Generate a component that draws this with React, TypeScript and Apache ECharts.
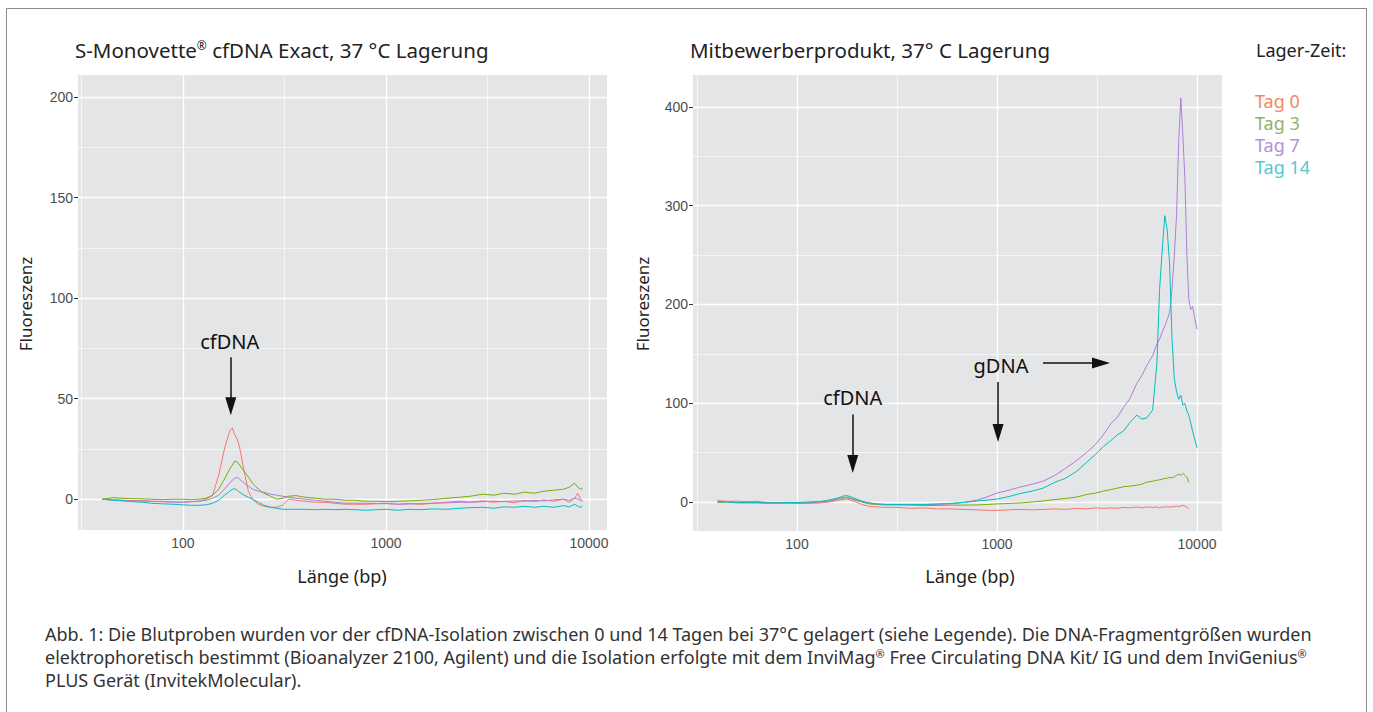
import React, { useEffect, useRef } from "react";
import * as echarts from "echarts";

// ---------- data ----------
const seriesNames = ["Tag 0", "Tag 3", "Tag 7", "Tag 14"];
const lineColors = ["#F8766D", "#7CAE00", "#B07CD8", "#00BFC4"];
const legendColors = ["#F5875C", "#8DB56C", "#B193D3", "#55C8D1"];

const xTickValues = [100, 1000, 10000];
const xMinorValues = [31.62, 316.2, 3162];
const leftYTicks = [0, 50, 100, 150, 200];
const leftYMinor = [25, 75, 125, 175];
const rightYTicks = [0, 100, 200, 300, 400];
const rightYMinor = [50, 150, 250, 350];

const leftLength = [40, 45, 50, 56, 63, 70, 80, 90, 100, 110, 120, 130, 140, 150, 160, 170, 175, 180, 185, 190, 200, 210, 220, 235, 250, 270, 290, 310, 330, 360, 400, 450, 500, 560, 630, 700, 800, 900, 1000, 1150, 1300, 1500, 1700, 2000, 2300, 2600, 3000, 3400, 3800, 4300, 4800, 5400, 6000, 6700, 7500, 8000, 8500, 8800, 9100, 9300];
const leftTag0 = [0, -0.3, -0.5, -0.8, -0.6, -1, -1.2, -1.3, -1.5, -1.2, -1, 0, 2, 12, 25, 34, 35.5, 32, 30, 26, 14, 4, 0, -2.5, -3.5, -4, -4, -3, 0, -0.5, -1, -1.5, -1.5, -2, -2.5, -2.5, -2.5, -2.2, -2, -2.5, -2.2, -2.5, -2, -1.5, -1, -1.5, -0.8, -1.5, -1, -1.8, -0.5, -1.2, -0.3, -1, 0, -1.5, 0.5, 3, 0, -1];
const leftTag3 = [0, 0.8, 0.5, 0.3, 0.2, 0, -0.2, 0, 0, -0.2, 0, 0.5, 2, 5, 10, 15, 17, 19, 18.5, 17, 14, 11, 8, 5, 3, 1.5, 0, 0.5, 1.5, 1.8, 1, 0.5, 0, 0, -0.5, -0.5, -1, -1, -1.2, -1, -0.8, -0.5, -0.2, 0.5, 1, 1.5, 2.5, 2, 3, 2.5, 3.5, 3, 4, 4.5, 5, 6, 8, 6, 5, 5.5];
const leftTag7 = [0, -0.3, -0.5, -0.7, -1, -1, -1.2, -1.5, -1.5, -1.2, -1, -0.5, 0.5, 2, 5, 8, 9.5, 10.5, 10.8, 10, 8, 6.5, 5, 4, 3.5, 2.5, 2, 1.5, 1, 0.5, 0, -0.5, -1, -1.5, -2, -2, -2, -2.2, -2.2, -2.5, -2.3, -2.2, -2, -1.8, -1.5, -1.5, -1.2, -1, -1.2, -0.8, -1, -0.5, -0.8, -0.3, 0, -0.5, 0.5, 0, -0.5, -1];
const leftTag14 = [0, -0.5, -0.8, -1.2, -1.5, -2, -2.3, -2.5, -2.8, -3, -3, -2.8, -2, -0.5, 2, 4, 5, 5.2, 4.5, 3.5, 2, 1, 0, -1.5, -3, -4, -4.5, -5, -5, -5, -5, -5.2, -5, -5.2, -5, -5.2, -5.5, -5.2, -5, -5.5, -5, -5.2, -4.8, -5, -4.5, -4.2, -4, -4.5, -3.8, -4, -3.5, -4, -3.5, -4, -3.2, -3.8, -2.5, -3.5, -4, -3.5];

const rightLength = [40, 45, 50, 56, 63, 70, 80, 90, 100, 115, 130, 145, 160, 170, 177, 185, 195, 210, 230, 250, 280, 320, 370, 430, 500, 580, 680, 800, 900, 1000, 1150, 1300, 1500, 1700, 1950, 2200, 2500, 2800, 3100, 3400, 3700, 4000, 4300, 4600, 5000, 5300, 5600, 6000, 6300, 6500, 6700, 6900, 7100, 7300, 7500, 7700, 7900, 8100, 8300, 8500, 8700, 8900, 9100, 9300, 9500, 9700, 10000];
const rightTag0 = [1.5, 0.5, 1, 0, 0.8, -0.5, -1, -1, -1.5, -1.5, -1, 0, 1.5, 2.5, 3, 2, 0.5, -2.5, -4.5, -5, -5.5, -5.5, -6.5, -6, -7, -7, -7.5, -8, -8.5, -8.5, -8, -7.5, -8, -7.5, -7, -7.5, -6.5, -7, -6, -6.5, -6, -6.5, -5.5, -6, -5, -6, -5, -5.5, -5, -6, -5, -5.5, -4.5, -5.5, -4.5, -5, -4, -5, -4, -3.5, -4, -5, -7.5, null, null, null, null];
const rightTag3 = [-0.5, 0, -1, -1, -1, -1, -1, -1, -1, -0.5, 0, 1, 3, 4, 4.2, 3.5, 2, 0, -2, -2.5, -3, -3, -3.2, -3.5, -3.5, -3.2, -3.2, -3, -2.5, -2, -1.5, -1, 0, 1, 2.5, 3.5, 5, 7.5, 9, 11, 12.5, 14, 15.5, 16, 17, 18, 20, 21, 22, 22.5, 23, 24, 24, 25, 24.5, 25.5, 27, 28, 27, 29, 27, 25, 20, null, null, null, null];
const rightTag7 = [0, 0.5, -0.5, 0, -0.5, -1, -1, -1, -1, -0.5, 0, 1, 3, 4.5, 5, 4, 2.5, 0.5, -1, -2, -2.5, -2.5, -2.5, -2.5, -2.5, -2, -0.5, 2, 5.5, 9, 12, 15, 18, 21, 27, 34, 42, 50, 58, 68, 79, 86, 96, 104, 120, 128, 138, 148, 160, 165, 172, 178, 185, 192, 215, 250, 290, 365, 409, 370, 328, 250, 205, 195, 198, 188, 175];
const rightTag14 = [0, 0, -0.5, -0.3, -0.5, -1, -1, -0.5, -0.5, 0, 0.5, 2, 4, 6, 6.5, 5.5, 3.5, 1, -1, -2, -2.5, -2.5, -2.5, -2.5, -2, -1.5, -0.5, 1, 2, 3, 5.5, 8.5, 11, 14, 20, 24, 31, 40, 48, 56, 62, 68, 72, 80, 88, 84, 85, 93, 140, 215, 255, 290, 275, 240, 165, 125, 112, 104, 108, 98, 100, 92, 88, 80, 72, 65, 55];

const leftSeriesValues = [leftTag0, leftTag3, leftTag7, leftTag14];
const rightSeriesValues = [rightTag0, rightTag3, rightTag7, rightTag14];

// annotation anchors in data coordinates [length bp, fluorescence]
const leftLabels = [{ text: "cfDNA", at: [170, 78.6] }];
const leftArrows = [{ from: [172, 70.6], to: [172, 46.3] }];
const rightLabels = [
  { text: "cfDNA", at: [190, 106] },
  { text: "gDNA", at: [1047, 137.7] },
];
const rightArrows = [
  { from: [190, 88.6], to: [190, 38.5] },
  { from: [1012, 121.5], to: [1012, 69.9] },
  { from: [1698, 140.8], to: [3311, 140.8] },
];

// ---------- styling ----------
const FONT = "'Noto Sans', 'DejaVu Sans', sans-serif";
const TICK_FONT = "'Liberation Sans', Arial, sans-serif";
const PANEL_BG = "#E4E5E7";

function xAxis(idx: number, min: number, max: number) {
  return {
    type: "log",
    logBase: 10,
    gridIndex: idx,
    min,
    max,
    axisLine: { show: false },
    axisTick: { show: true, customValues: xTickValues, length: 4, lineStyle: { color: "#333", width: 1 } },
    axisLabel: {
      customValues: xTickValues,
      formatter: (v: number) => String(Math.round(v)),
      color: "#4D4D4D",
      fontSize: 14,
      fontFamily: TICK_FONT,
      margin: 6,
    },
    splitLine: { show: false },
    minorTick: { show: false },
    minorSplitLine: { show: false },
  };
}

function yAxis(idx: number, min: number, max: number, ticks: number[]) {
  return {
    type: "value",
    gridIndex: idx,
    min,
    max,
    axisLine: { show: false },
    axisTick: { show: true, customValues: ticks, length: 4, lineStyle: { color: "#333", width: 1 } },
    axisLabel: {
      customValues: ticks,
      formatter: (v: number) => String(v),
      color: "#4D4D4D",
      fontSize: 14,
      fontFamily: TICK_FONT,
      margin: 5,
    },
    splitLine: { show: false },
  };
}

function gridLines(idx: number, yMajor: number[], yMinor: number[]) {
  const major = { type: "solid", color: "#FFFFFF", width: 1.3 };
  const minor = { type: "solid", color: "#FFFFFF", width: 0.6 };
  return {
    type: "line",
    xAxisIndex: idx,
    yAxisIndex: idx,
    data: [],
    silent: true,
    markLine: {
      silent: true,
      z: 1,
      symbol: ["none", "none"],
      label: { show: false },
      emphasis: { disabled: true },
      data: [
        ...xMinorValues.map((v) => ({ xAxis: v, lineStyle: minor })),
        ...yMinor.map((v) => ({ yAxis: v, lineStyle: minor })),
        ...xTickValues.map((v) => ({ xAxis: v, lineStyle: major })),
        ...yMajor.map((v) => ({ yAxis: v, lineStyle: major })),
      ],
    },
  };
}

function annotations(idx: number, labels: { text: string; at: number[] }[], arrows: { from: number[]; to: number[] }[]) {
  return {
    type: "line",
    xAxisIndex: idx,
    yAxisIndex: idx,
    data: [],
    silent: true,
    markLine: {
      silent: true,
      label: { show: false },
      emphasis: { disabled: true },
      lineStyle: { type: "solid", color: "#111", width: 1.5 },
      data: arrows.map((a) => [
        { coord: a.from, symbol: "none" },
        { coord: a.to, symbol: "triangle", symbolSize: [11, 18] },
      ]),
    },
    markPoint: {
      silent: true,
      symbol: "circle",
      symbolSize: 1,
      itemStyle: { color: "rgba(0,0,0,0)" },
      label: { show: true, position: "inside", formatter: "{b}", color: "#111", fontSize: 20, fontFamily: FONT },
      data: labels.map((l) => ({ name: l.text, coord: l.at })),
    },
  };
}

function dataSeries(idx: number, lengths: number[], values: (number | null)[][]) {
  return values.map((vals, s) => {
    const data: number[][] = [];
    lengths.forEach((x, i) => {
      const v = vals[i];
      if (v !== null && v !== undefined) data.push([x, v]);
    });
    return {
      type: "line",
      name: seriesNames[s],
      xAxisIndex: idx,
      yAxisIndex: idx,
      data,
      symbol: "none",
      showSymbol: false,
      silent: true,
      z: 2,
      lineStyle: { color: lineColors[s], width: 1 },
      itemStyle: { color: lineColors[s] },
    };
  });
}

function buildOption() {
  const richTitle = {
    a: { fontSize: 20.5, fontFamily: FONT, fill: "#222" },
    s: { fontSize: 12, fontFamily: FONT, fill: "#222", verticalAlign: "top" },
  };
  const richCap = {
    n: { fontSize: 18, fontFamily: FONT, fill: "#333" },
    s: { fontSize: 11, fontFamily: FONT, fill: "#333", verticalAlign: "top" },
  };
  return {
    animation: false,
    backgroundColor: "#FFFFFF",
    grid: [
      { left: 78, top: 75, width: 529, height: 455, show: true, backgroundColor: PANEL_BG, borderWidth: 0 },
      { left: 693, top: 75, width: 529, height: 456, show: true, backgroundColor: PANEL_BG, borderWidth: 0 },
    ],
    xAxis: [xAxis(0, 30.4, 12270), xAxis(1, 30.2, 13335)],
    yAxis: [yAxis(0, -15.3, 211, leftYTicks), yAxis(1, -29.4, 432.4, rightYTicks)],
    legend: {
      data: seriesNames.map((n, i) => ({ name: n, textStyle: { color: legendColors[i] } })),
      orient: "vertical",
      left: 1245,
      top: 87,
      itemWidth: 0,
      itemHeight: 0,
      itemGap: 4,
      icon: "rect",
      selectedMode: false,
      textStyle: { fontSize: 18, fontFamily: FONT },
    },
    series: [
      gridLines(0, leftYTicks, leftYMinor),
      gridLines(1, rightYTicks, rightYMinor),
      ...dataSeries(0, leftLength, leftSeriesValues),
      ...dataSeries(1, rightLength, rightSeriesValues),
      annotations(0, leftLabels, leftArrows),
      annotations(1, rightLabels, rightArrows),
    ],
    graphic: [
      {
        type: "rect",
        silent: true,
        shape: { x: 6.5, y: 8.5, width: 1360, height: 720 },
        style: { fill: "none", stroke: "#8C8C8C", lineWidth: 1 },
      },
      {
        type: "text",
        x: 75,
        y: 50,
        silent: true,
        style: {
          text: "{a|S-Monovette}{s|®}{a| cfDNA Exact, 37 °C Lagerung}",
          rich: richTitle,
          verticalAlign: "middle",
          align: "left",
        },
      },
      {
        type: "text",
        x: 690,
        y: 50,
        silent: true,
        style: { text: "Mitbewerberprodukt, 37° C Lagerung", fontSize: 20.5, fontFamily: FONT, fill: "#222", verticalAlign: "middle", align: "left" },
      },
      {
        type: "text",
        x: 1256,
        y: 50,
        silent: true,
        style: { text: "Lager-Zeit:", fontSize: 18, fontFamily: FONT, fill: "#222", verticalAlign: "middle", align: "left" },
      },
      {
        type: "text",
        x: 342,
        y: 576,
        silent: true,
        style: { text: "Länge (bp)", fontSize: 18, fontFamily: FONT, fill: "#222", verticalAlign: "middle", align: "center" },
      },
      {
        type: "text",
        x: 970,
        y: 576,
        silent: true,
        style: { text: "Länge (bp)", fontSize: 18, fontFamily: FONT, fill: "#222", verticalAlign: "middle", align: "center" },
      },
      {
        type: "text",
        x: 25,
        y: 304,
        rotation: Math.PI / 2,
        silent: true,
        style: { text: "Fluoreszenz", fontSize: 17, fontFamily: FONT, fill: "#222", verticalAlign: "middle", align: "center" },
      },
      {
        type: "text",
        x: 642,
        y: 304,
        rotation: Math.PI / 2,
        silent: true,
        style: { text: "Fluoreszenz", fontSize: 17, fontFamily: FONT, fill: "#222", verticalAlign: "middle", align: "center" },
      },
      {
        type: "text",
        x: 45,
        y: 634,
        silent: true,
        style: {
          text: "{n|Abb. 1: Die Blutproben wurden vor der cfDNA-Isolation zwischen 0 und 14 Tagen bei 37°C gelagert (siehe Legende). Die DNA-Fragmentgrößen wurden}",
          rich: richCap,
          verticalAlign: "middle",
          align: "left",
        },
      },
      {
        type: "text",
        x: 45,
        y: 657,
        silent: true,
        style: {
          text: "{n|elektrophoretisch bestimmt (Bioanalyzer 2100, Agilent) und die Isolation erfolgte mit dem InviMag}{s|®}{n| Free Circulating DNA Kit/ IG und dem InviGenius}{s|®}",
          rich: richCap,
          verticalAlign: "middle",
          align: "left",
        },
      },
      {
        type: "text",
        x: 45,
        y: 680,
        silent: true,
        style: {
          text: "{n|PLUS Gerät (InvitekMolecular).}",
          rich: richCap,
          verticalAlign: "middle",
          align: "left",
        },
      },
    ],
  };
}

export default function App() {
  const ref = useRef<HTMLDivElement>(null);
  useEffect(() => {
    if (!ref.current) return;
    const chart = echarts.init(ref.current, undefined, { renderer: "svg" });
    chart.setOption(buildOption() as any);
    return () => chart.dispose();
  }, []);
  return (
    <div
      ref={ref}
      style={{ position: "fixed", left: 0, top: 0, width: 1373, height: 712, background: "#fff" }}
    />
  );
}
